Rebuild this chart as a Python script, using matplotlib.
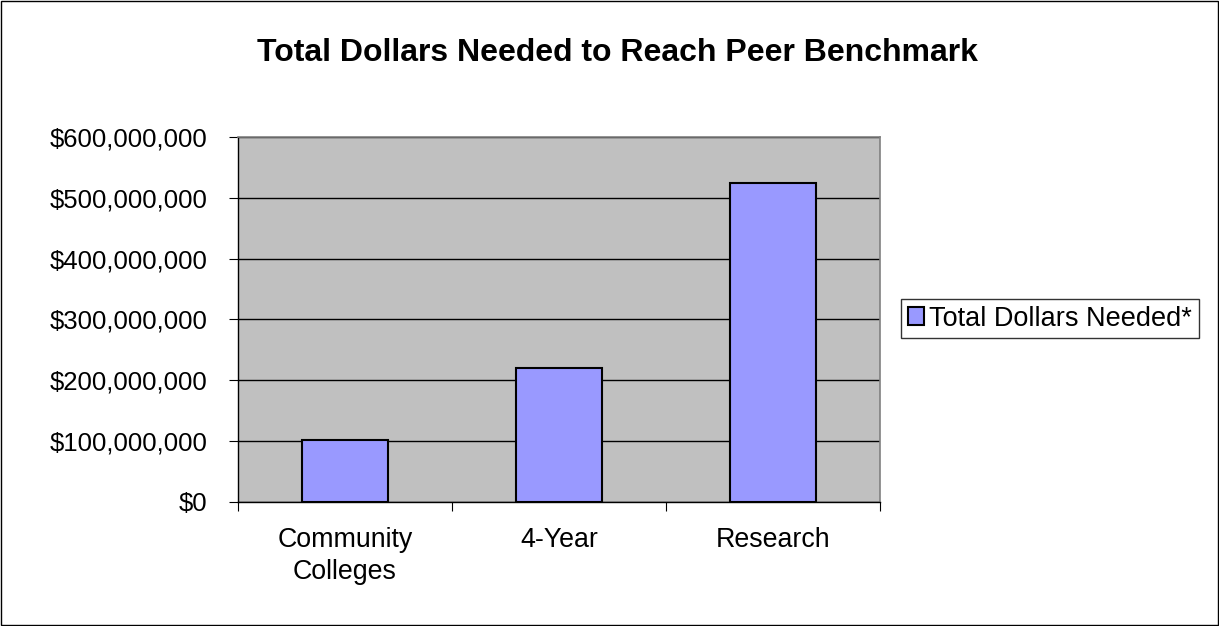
import matplotlib
matplotlib.use("Agg")
import matplotlib.pyplot as plt
from matplotlib.ticker import FuncFormatter
from matplotlib.patches import Patch, Rectangle

categories = ["Community\nColleges", "4-Year", "Research"]
values = [102_000_000, 220_000_000, 524_000_000]
series_name = "Total Dollars Needed*"
title = "Total Dollars Needed to Reach Peer Benchmark"
yticks = [0, 100_000_000, 200_000_000, 300_000_000, 400_000_000, 500_000_000, 600_000_000]

plt.rcParams['font.family'] = ['Liberation Sans', 'DejaVu Sans']

fig = plt.figure(figsize=(12.19, 6.26), dpi=100)
fig.patches.append(Rectangle((0.0008, 0.0016), 0.9984, 0.9968, transform=fig.transFigure,
                             fill=False, edgecolor='black', linewidth=1))

ax = fig.add_axes([0.1952, 0.1981, 0.7219 - 0.1952, 0.7812 - 0.1981])
ax.set_facecolor('#c0c0c0')

x = list(range(len(categories)))
bars = ax.bar(x, values, width=0.4, color='#9999ff', edgecolor='black', linewidth=1.5,
              label=series_name, zorder=3)

ax.set_xlim(-0.5, len(categories) - 0.5)
ax.set_ylim(0, 600_000_000)
ax.set_yticks(yticks)
ax.yaxis.set_major_formatter(FuncFormatter(lambda v, p: "${:,.0f}".format(v)))
ax.grid(axis='y', color='black', linewidth=1, zorder=1)
ax.set_axisbelow(True)

ax.set_xticks([i + 0.5 for i in range(-1, len(categories))])
ax.set_xticklabels([])
ax.set_xticks(x, minor=True)
ax.set_xticklabels(categories, minor=True, fontsize=19.3, linespacing=1.3)
ax.tick_params(axis='x', which='minor', length=0, pad=18)
ax.tick_params(axis='x', which='major', length=6.5, direction='out', color='black')
ax.tick_params(axis='y', length=6.5, direction='out', labelsize=18.5, pad=15.5)

for s in ['top', 'right']:
    ax.spines[s].set_color('#808080')
    ax.spines[s].set_linewidth(1.2)
for s in ['left', 'bottom']:
    ax.spines[s].set_color('black')
    ax.spines[s].set_linewidth(1)

fig.text(0.5066, 0.9155, title, ha='center', va='center', fontsize=23, fontweight='bold')

leg = fig.legend(handles=[Patch(facecolor='#9999ff', edgecolor='black', linewidth=1.5, label=series_name)],
                 loc='center left', bbox_to_anchor=(0.739, 0.4912), fontsize=19.5,
                 frameon=True, fancybox=False, edgecolor='black', handlelength=0.6,
                 handleheight=0.6, handletextpad=0.2, borderpad=0.25, borderaxespad=0)
leg.get_frame().set_linewidth(1)

fig.savefig("out.png", dpi=100)
